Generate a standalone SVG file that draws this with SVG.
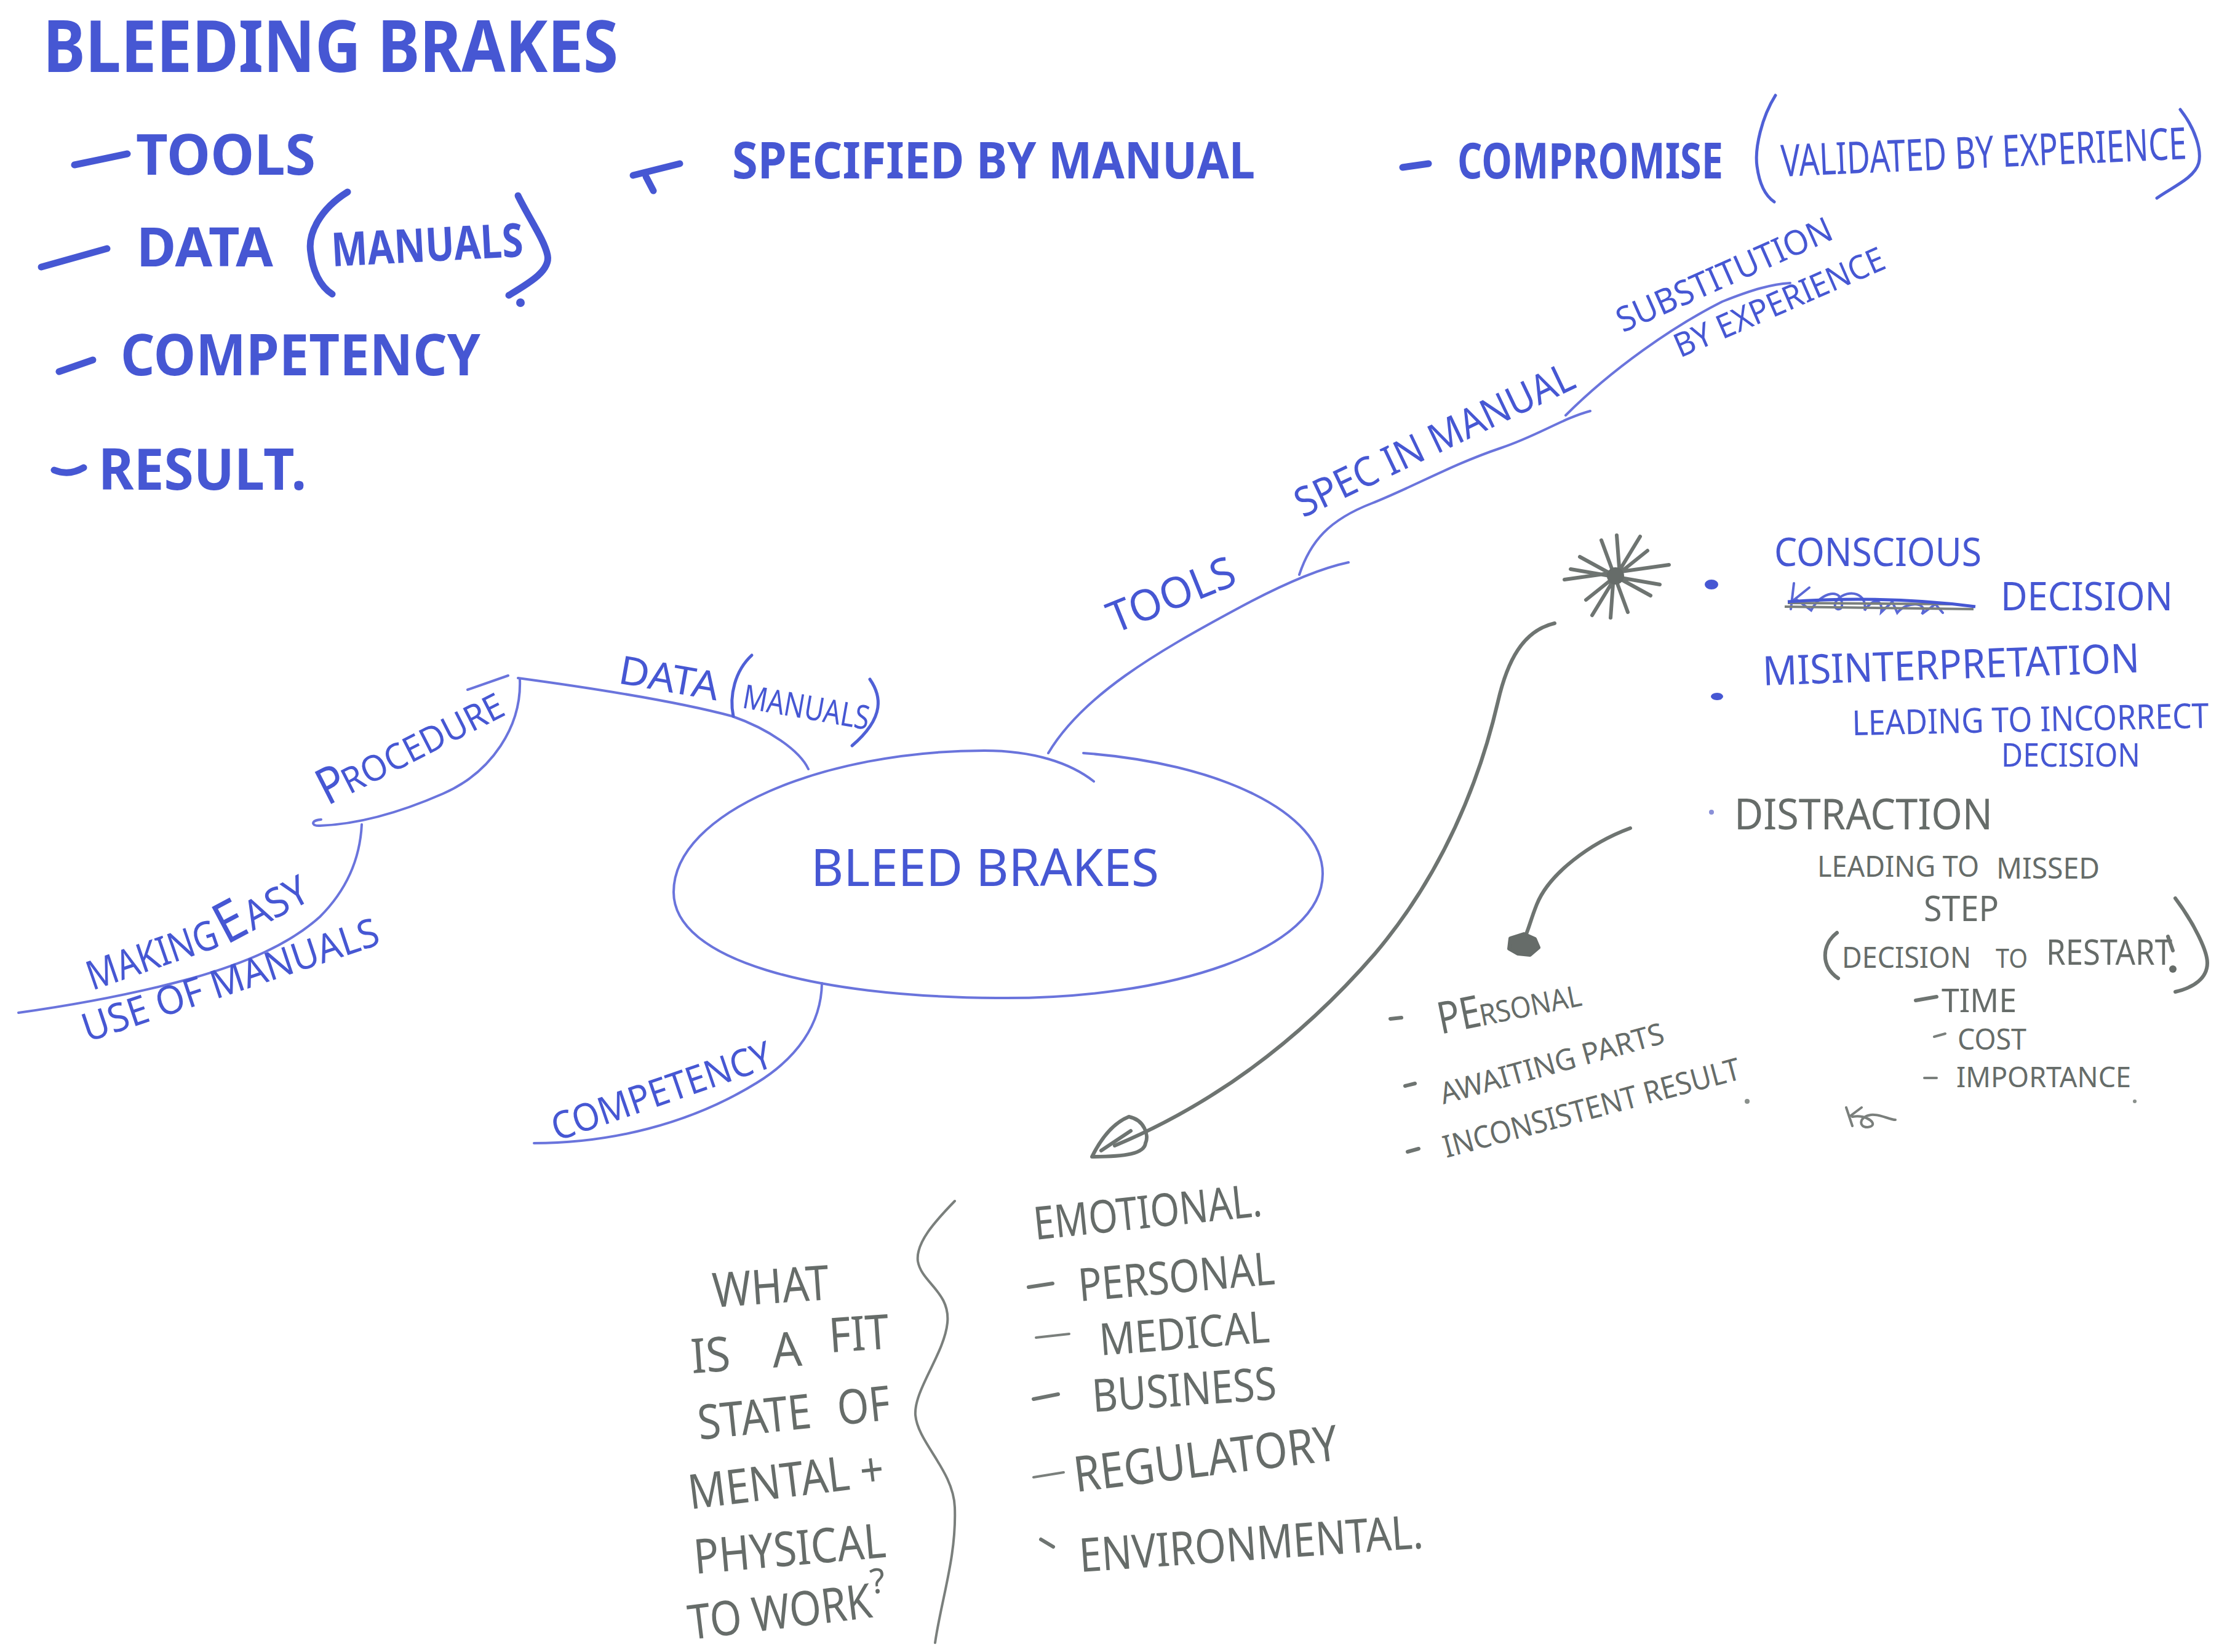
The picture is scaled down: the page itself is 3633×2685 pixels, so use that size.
<svg xmlns="http://www.w3.org/2000/svg" width="3633" height="2685" viewBox="0 0 3633 2685">
<style>
text{font-family:"Noto Sans","Liberation Sans",sans-serif;}
.b{fill:#4657d3;}
.bb{fill:#4657d3;font-weight:700;}
.g{fill:#666c69;}
.ln{fill:none;stroke:#6a74dc;stroke-width:4;stroke-linecap:round;stroke-linejoin:round;}
.pen{fill:none;stroke:#4657d3;stroke-width:11;stroke-linecap:round;}
.pb{fill:none;stroke:#4f60d6;stroke-width:5;stroke-linecap:round;}
.pg{fill:none;stroke:#6e7471;stroke-width:6;stroke-linecap:round;stroke-linejoin:round;}
.pgt{fill:none;stroke:#7a7f7c;stroke-width:4;stroke-linecap:round;}
</style>
<rect width="3633" height="2685" fill="#ffffff"/>

<g id="title-list">
  <text class="bb" x="70" y="117" font-size="116" textLength="935" lengthAdjust="spacingAndGlyphs">BLEEDING BRAKES</text>
  <path class="pen" d="M121,268 L207,250"/>
  <text class="bb" x="221" y="284" font-size="92" textLength="292" lengthAdjust="spacingAndGlyphs">TOOLS</text>
  <path class="pen" d="M67,434 L174,404"/>
  <text class="bb" x="222" y="433" font-size="88" textLength="222" lengthAdjust="spacingAndGlyphs">DATA</text>
  <path class="pen" stroke-width="8" d="M565,312 C520,340 500,380 505,410 C508,440 520,465 540,478"/>
  <text class="bb" transform="translate(540,433) rotate(-3)" font-size="76" textLength="312" lengthAdjust="spacingAndGlyphs">MANUALS</text>
  <path class="pen" stroke-width="8" d="M842,318 C860,355 885,390 890,415 C895,440 860,460 827,480"/>
  <circle cx="846" cy="492" r="7" fill="#4657d3"/>
  <path class="pen" d="M96,604 L151,585"/>
  <text class="bb" x="196" y="610" font-size="94" textLength="585" lengthAdjust="spacingAndGlyphs">COMPETENCY</text>
  <path class="pen" d="M88,764 Q112,774 136,760"/>
  <text class="bb" x="160" y="796" font-size="94" textLength="338" lengthAdjust="spacingAndGlyphs">RESULT.</text>
</g>

<g id="specified">
  <path class="pen" d="M1029,285 L1105,266 M1050,287 L1062,310"/>
  <text class="bb" x="1190" y="290" font-size="82" textLength="850" lengthAdjust="spacingAndGlyphs">SPECIFIED BY MANUAL</text>
</g>

<g id="compromise" transform="translate(-16,0)">
  <path class="pen" stroke-width="13" d="M2296,272 L2338,266"/>
  <text class="bb" x="2385" y="290" font-size="80" textLength="432" lengthAdjust="spacingAndGlyphs">COMPROMISE</text>
  <path class="pb" d="M2902,155 C2880,190 2868,240 2872,270 C2876,300 2885,318 2900,328"/>
  <text class="b" transform="translate(2912,287) rotate(-2.5) scale(0.62,1)" font-size="72" textLength="1064" lengthAdjust="spacingAndGlyphs">VALIDATED BY EXPERIENCE</text>
  <path class="pb" d="M3560,178 C3585,210 3595,245 3590,265 C3583,290 3545,305 3522,322"/>
</g>

<g id="connectors">
  <path class="ln" d="M1704,1224 C1760,1130 1880,1060 2010,990 C2080,952 2140,925 2192,914"/>
  <path class="ln" d="M2112,934 C2130,880 2160,845 2230,818 C2300,790 2360,755 2440,728 C2500,708 2540,680 2585,668"/>
  <path class="ln" d="M2545,675 C2620,600 2720,530 2800,490 C2850,470 2880,462 2910,460"/>
  <path class="ln" d="M760,1121 L826,1098 M842,1102 C960,1118 1100,1140 1190,1164 C1250,1185 1300,1220 1314,1250"/>
  <path class="ln" d="M845,1104 C848,1180 800,1255 720,1290 C640,1325 575,1340 520,1342 C505,1343 505,1333 522,1332"/>
  <path class="ln" d="M588,1340 C585,1400 560,1450 520,1490 C470,1535 400,1565 312,1590 C220,1615 130,1632 30,1646"/>
  <path class="ln" d="M1336,1598 C1335,1665 1295,1720 1230,1760 C1120,1828 990,1858 868,1858"/>
  <path class="pg" stroke-width="5" d="M2527,1013 C2475,1025 2450,1075 2435,1140 C2405,1270 2345,1420 2235,1550 C2105,1700 1960,1800 1812,1862"/>
  <path class="pg" stroke-width="7" d="M1775,1880 C1790,1850 1810,1825 1835,1815 C1860,1820 1868,1845 1862,1858 C1860,1875 1830,1880 1775,1880 Z M1790,1870 L1838,1838"/>
  <path class="pg" stroke-width="5" d="M2650,1346 C2585,1370 2518,1420 2498,1470 C2488,1495 2485,1510 2478,1525"/>
  <path d="M2455,1525 L2477,1518 L2495,1526 L2501,1540 L2487,1552 L2467,1550 L2453,1542 Z" fill="#666c69" stroke="#666c69" stroke-width="6" stroke-linejoin="round"/>
</g>

<g id="central">
  <path class="ln" d="M1761,1224 C1980,1240 2150,1320 2150,1420 C2150,1545 1900,1625 1620,1622 C1320,1620 1095,1560 1095,1450 C1095,1320 1340,1220 1600,1220 C1680,1220 1740,1240 1778,1270"/>
  <text class="b" x="1318" y="1440" font-size="84" textLength="566" lengthAdjust="spacingAndGlyphs">BLEED BRAKES</text>
</g>

<g id="tools">
  <text class="b" transform="translate(1812,1030) rotate(-22)" font-size="70" textLength="218" lengthAdjust="spacingAndGlyphs">TOOLS</text>
</g>
<g id="spec-in-manual">
  <text class="b" transform="translate(2118,842) rotate(-25.5)" font-size="66" textLength="495" lengthAdjust="spacingAndGlyphs">SPEC IN MANUAL</text>
</g>
<g id="substitution">
  <text class="b" transform="translate(2638,541) rotate(-24)" font-size="56" textLength="378" lengthAdjust="spacingAndGlyphs">SUBSTITUTION</text>
  <text class="b" transform="translate(2731,582) rotate(-23.5)" font-size="54" textLength="368" lengthAdjust="spacingAndGlyphs">BY EXPERIENCE</text>
</g>
<g id="data">
  <text class="b" transform="translate(1003,1110) rotate(10)" font-size="64" textLength="164" lengthAdjust="spacingAndGlyphs">DATA</text>
  <path class="pb" stroke-width="4" d="M1222,1065 C1195,1090 1185,1130 1192,1164"/>
  <text class="b" transform="translate(1205,1150) rotate(10)" font-size="54" textLength="208" lengthAdjust="spacingAndGlyphs">MANUALS</text>
  <path class="pb" stroke-width="4" d="M1414,1104 C1432,1130 1440,1165 1385,1212"/>
</g>
<g id="procedure">
  <text class="b" transform="translate(532,1310) rotate(-27)"><tspan x="0" font-size="82" textLength="44" lengthAdjust="spacingAndGlyphs">P</tspan><tspan x="40" font-size="58" textLength="288" lengthAdjust="spacingAndGlyphs">ROCEDURE</tspan></text>
</g>
<g id="making-easy">
  <text class="b" transform="translate(150,1610) rotate(-19)" font-size="66" textLength="222" lengthAdjust="spacingAndGlyphs">MAKING</text>
  <text class="b" transform="translate(368,1536) rotate(-28)"><tspan x="0" font-size="92" textLength="46" lengthAdjust="spacingAndGlyphs">E</tspan><tspan x="48" font-size="66" textLength="110" lengthAdjust="spacingAndGlyphs">ASY</tspan></text>
  <text class="b" transform="translate(142,1694) rotate(-18.5)" font-size="64" textLength="505" lengthAdjust="spacingAndGlyphs">USE OF MANUALS</text>
</g>
<g id="competency">
  <text class="b" transform="translate(905,1855) rotate(-19)" font-size="62" textLength="375" lengthAdjust="spacingAndGlyphs">COMPETENCY</text>
</g>

<g id="star" transform="translate(-22,0)">
  <g class="pg" stroke-width="6">
    <path d="M2565,942 L2735,918 M2590,905 L2705,968 M2625,878 L2668,995 M2688,872 L2610,1000 M2655,935 L2650,870 M2645,935 L2640,1004 M2575,925 L2720,950 M2600,975 L2700,895"/>
  </g>
  <circle cx="2648" cy="936" r="14" fill="#666c69"/>
</g>

<g id="conscious" transform="translate(-24,0)">
  <ellipse cx="2806" cy="950" rx="11" ry="8" fill="#4657d3"/>
  <text class="b" x="2908" y="920" font-size="64" textLength="337" lengthAdjust="spacingAndGlyphs">CONSCIOUS</text>
  <path fill="none" stroke="#5a68d6" stroke-width="4" stroke-linecap="round" d="M2935,990 L2940,948 M2940,975 L2965,955 M2945,975 L2968,992 C2985,960 3020,955 3018,985 C3016,995 3000,990 3010,975 C3030,955 3060,965 3055,992 C3070,970 3085,975 3082,995 L3100,978 L3108,996 C3125,975 3160,980 3148,998 L3170,982 L3182,996"/>
  <path fill="none" stroke="#7a7f7c" stroke-width="4" d="M2925,986 L3232,990 M2930,980 L3200,982"/>
  <path fill="none" stroke="#4657d3" stroke-width="5" d="M2930,978 C3050,970 3150,975 3235,986"/>
  <text class="b" x="3276" y="992" font-size="64" textLength="280" lengthAdjust="spacingAndGlyphs">DECISION</text>
</g>

<g id="misinterpretation" transform="translate(-24,0)">
  <ellipse cx="2815" cy="1132" rx="10" ry="6" fill="#4657d3"/>
  <text class="b" transform="translate(2890,1114) rotate(-2)" font-size="66" textLength="613" lengthAdjust="spacingAndGlyphs">MISINTERPRETATION</text>
  <text class="b" transform="translate(3035,1195) rotate(-1.2) scale(0.8,1)" font-size="56" textLength="725" lengthAdjust="spacingAndGlyphs">LEADING TO INCORRECT</text>
  <text class="b" x="3277" y="1246" font-size="52" textLength="226" lengthAdjust="spacingAndGlyphs">DECISION</text>
</g>

<g id="distraction" transform="translate(-24,0)">
  <circle cx="2806" cy="1320" r="4" fill="#8a90d8"/>
  <text class="g" x="2843" y="1348" font-size="70" textLength="420" lengthAdjust="spacingAndGlyphs">DISTRACTION</text>
  <text class="g" y="1425" font-size="48"><tspan x="2978" textLength="263" lengthAdjust="spacingAndGlyphs">LEADING TO</tspan><tspan x="3269" y="1428" textLength="168" lengthAdjust="spacingAndGlyphs">MISSED</tspan></text>
  <text class="g" x="3151" y="1497" font-size="56" textLength="122" lengthAdjust="spacingAndGlyphs">STEP</text>
  <path class="pg" d="M3010,1516 C2985,1535 2983,1570 3012,1590"/>
  <text class="g" y="1573" font-size="48"><tspan x="3018" textLength="210" lengthAdjust="spacingAndGlyphs">DECISION</tspan><tspan x="3268" font-size="44" textLength="52" lengthAdjust="spacingAndGlyphs">TO</tspan><tspan x="3350" y="1568" font-size="56" textLength="205" lengthAdjust="spacingAndGlyphs">RESTART</tspan></text>
  <path class="pg" d="M3548,1522 L3556,1545"/>
  <circle cx="3556" cy="1575" r="6" fill="#666c69"/>
  <path class="pg" d="M3560,1460 C3590,1500 3612,1545 3612,1565 C3612,1590 3590,1605 3560,1612"/>
  <path class="pg" d="M3138,1626 L3172,1620"/>
  <text class="g" x="3180" y="1645" font-size="52" textLength="122" lengthAdjust="spacingAndGlyphs">TIME</text>
  <path class="pgt" d="M3168,1685 L3186,1680"/>
  <text class="g" x="3206" y="1706" font-size="48" textLength="112" lengthAdjust="spacingAndGlyphs">COST</text>
  <path class="pgt" d="M3152,1752 L3172,1752"/>
  <text class="g" x="3204" y="1767" font-size="46" textLength="284" lengthAdjust="spacingAndGlyphs">IMPORTANCE</text>
  <circle cx="3494" cy="1790" r="3" fill="#8a908c"/>
  <path class="pgt" d="M3025,1800 L3035,1830 M3030,1815 L3050,1800 M3035,1815 C3060,1810 3080,1830 3060,1832 C3045,1833 3045,1815 3065,1812 C3080,1810 3095,1820 3105,1820"/>
</g>

<g id="personal-causes" transform="translate(-12,0)">
  <path class="pg" stroke-width="8" d="M2272,1656 L2290,1654"/>
  <text class="g" transform="translate(2354,1681) rotate(-11.5)"><tspan x="0" font-size="72" textLength="70" lengthAdjust="spacingAndGlyphs">PE</tspan><tspan x="68" font-size="48" textLength="168" lengthAdjust="spacingAndGlyphs">RSONAL</tspan></text>
  <path class="pg" stroke-width="8" d="M2296,1765 L2312,1761"/>
  <text class="g" transform="translate(2358,1795) rotate(-15.5)" font-size="48" textLength="376" lengthAdjust="spacingAndGlyphs">AWAITING PARTS</text>
  <path class="pg" stroke-width="8" d="M2300,1872 L2318,1867"/>
  <text class="g" transform="translate(2363,1882) rotate(-15)" font-size="50" textLength="498" lengthAdjust="spacingAndGlyphs">INCONSISTENT RESULT</text>
  <circle cx="2852" cy="1790" r="4" fill="#8a908c"/>
</g>

<g id="fit-question">
  <text class="g" transform="translate(1160,2125) rotate(-4)" font-size="78" textLength="190" lengthAdjust="spacingAndGlyphs">WHAT</text>
  <text class="g" transform="translate(1125,2232) rotate(-4)" font-size="78"><tspan x="0" textLength="64" lengthAdjust="spacingAndGlyphs">IS</tspan><tspan x="132" textLength="48" lengthAdjust="spacingAndGlyphs">A</tspan><tspan x="226" y="-18" textLength="98" lengthAdjust="spacingAndGlyphs">FIT</tspan></text>
  <text class="g" transform="translate(1137,2340) rotate(-6)" font-size="78"><tspan x="0" textLength="185" lengthAdjust="spacingAndGlyphs">STATE</tspan><tspan x="228" textLength="86" lengthAdjust="spacingAndGlyphs">OF</tspan></text>
  <text class="g" transform="translate(1122,2453) rotate(-7)" font-size="78" textLength="320" lengthAdjust="spacingAndGlyphs">MENTAL +</text>
  <text class="g" transform="translate(1130,2558) rotate(-5)" font-size="78" textLength="313" lengthAdjust="spacingAndGlyphs">PHYSICAL</text>
  <text class="g" transform="translate(1122,2665) rotate(-7)" font-size="78"><tspan x="0" textLength="300" lengthAdjust="spacingAndGlyphs">TO WORK</tspan><tspan x="302" y="-38" font-size="56">?</tspan></text>
  <path class="pgt" d="M1552,1952 C1520,1985 1488,2020 1492,2050 C1498,2085 1545,2100 1540,2150 C1535,2200 1485,2260 1488,2300 C1492,2345 1550,2390 1552,2450 C1555,2530 1530,2600 1520,2670"/>
</g>

<g id="fitness-factors">
  <text class="g" transform="translate(1683,2015) rotate(-6)" font-size="74" textLength="372" lengthAdjust="spacingAndGlyphs">EMOTIONAL.</text>
  <path class="pg" stroke-width="8" d="M1672,2092 L1711,2086"/>
  <text class="g" transform="translate(1755,2115) rotate(-5)" font-size="74" textLength="320" lengthAdjust="spacingAndGlyphs">PERSONAL</text>
  <path class="pgt" stroke-width="5" d="M1684,2174 L1738,2168"/>
  <text class="g" transform="translate(1789,2203) rotate(-4.5)" font-size="72" textLength="277" lengthAdjust="spacingAndGlyphs">MEDICAL</text>
  <path class="pg" stroke-width="7" d="M1680,2274 L1720,2266"/>
  <text class="g" transform="translate(1777,2295) rotate(-4)" font-size="74" textLength="300" lengthAdjust="spacingAndGlyphs">BUSINESS</text>
  <path class="pgt" stroke-width="6" d="M1680,2401 L1729,2393"/>
  <text class="g" transform="translate(1749,2425) rotate(-7)" font-size="80" textLength="432" lengthAdjust="spacingAndGlyphs">REGULATORY</text>
  <path class="pg" stroke-width="6" d="M1692,2502 L1712,2514"/>
  <text class="g" transform="translate(1756,2555) rotate(-4)" font-size="76" textLength="560" lengthAdjust="spacingAndGlyphs">ENVIRONMENTAL.</text>
</g>
</svg>
